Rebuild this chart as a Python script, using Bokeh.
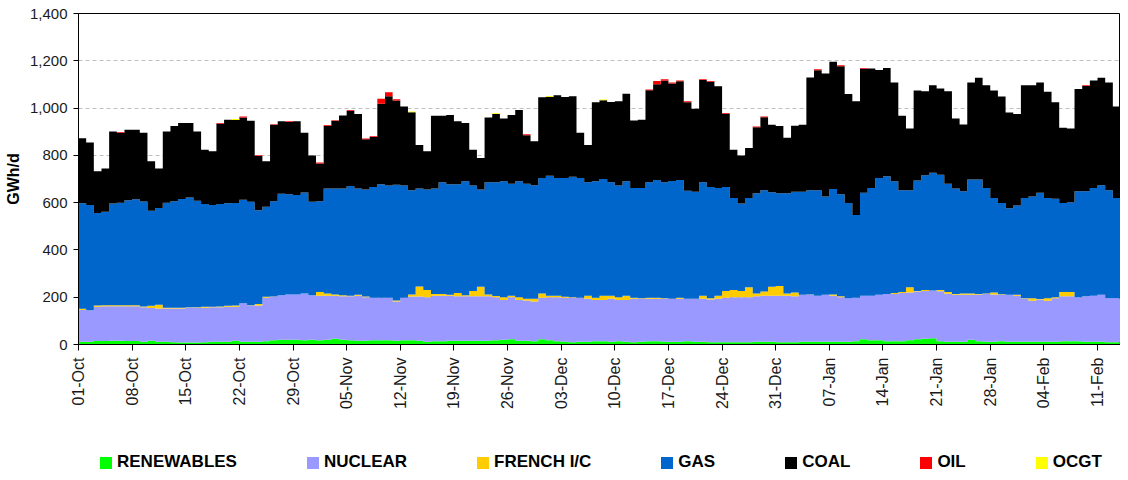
import math
import numpy as np
from bokeh.plotting import figure
from bokeh.layouts import column
from bokeh.models import (ColumnDataSource, FixedTicker, NumeralTickFormatter,
                          Legend, LegendItem, Range1d)
from bokeh.embed import file_html
from bokeh.resources import INLINE

# ---------------- data (GWh/d, one value per day from 01-Oct) ----------------
tick_labels = ["01-Oct", "08-Oct", "15-Oct", "22-Oct", "29-Oct", "05-Nov", "12-Nov",
               "19-Nov", "26-Nov", "03-Dec", "10-Dec", "17-Dec", "24-Dec", "31-Dec",
               "07-Jan", "14-Jan", "21-Jan", "28-Jan", "04-Feb", "11-Feb"]

renewables = [12, 12, 15, 15, 16, 16, 15, 15, 12, 16, 12, 12, 10, 8, 8, 8, 10, 12, 12, 12, 16, 12, 12, 12, 14, 18, 20,
              20, 20, 18, 20, 18, 20, 24, 20, 18, 16, 16, 18, 18, 18, 16, 18, 18, 16, 12, 14, 14, 16, 16, 16, 16, 16, 16,
              18, 20, 22, 16, 16, 14, 22, 18, 14, 12, 10, 12, 12, 14, 14, 12, 14, 12, 10, 12, 14, 14, 12, 12, 12, 14, 12,
              12, 10, 10, 10, 10, 10, 10, 12, 12, 12, 10, 10, 10, 12, 12, 12, 12, 12, 12, 12, 14, 22, 18, 18, 14, 14, 14,
              18, 22, 24, 26, 14, 12, 12, 12, 20, 14, 12, 12, 14, 12, 12, 12, 12, 12, 12, 12, 14, 14, 14, 12, 12, 12, 10, 10]

nuclear = [134, 133, 145, 147, 146, 146, 147, 147, 146, 138, 140, 140, 142, 144, 149, 147, 145, 146, 146, 148, 144, 163, 153, 153, 184, 184, 188,
           192, 192, 198, 188, 188, 186, 182, 184, 186, 190, 184, 180, 180, 180, 166, 180, 185, 187, 188, 192, 192, 190, 188, 188, 188, 188, 188,
           182, 168, 178, 172, 170, 168, 176, 182, 186, 186, 188, 186, 182, 174, 174, 182, 174, 176, 184, 182, 180, 180, 182, 182, 182, 180, 182,
           182, 180, 184, 188, 190, 190, 190, 192, 194, 194, 196, 196, 194, 198, 198, 194, 198, 194, 188, 184, 184, 184, 188, 192, 200, 200, 204,
           202, 202, 202, 202, 211, 203, 198, 198, 190, 197, 202, 199, 196, 198, 194, 182, 173, 178, 173, 184, 190, 190, 186, 192, 194, 198, 186, 186]

french_ic = [5, 0, 5, 4, 4, 4, 4, 4, 3, 10, 16, 3, 3, 3, 1, 3, 5, 2, 3, 4, 5, 0, 1, 6, 4, 1, 0,
             0, 0, 0, 0, 16, 10, 6, 4, 2, 4, 3, 0, 0, 0, 4, 0, 9, 42, 30, 8, 8, 4, 14, 4, 22, 40, 8,
             5, 12, 6, 12, 8, 12, 18, 6, 6, 4, 2, 0, 12, 10, 18, 12, 12, 18, 4, 2, 4, 4, 2, 0, 4, 0, 0,
             12, 6, 12, 28, 30, 26, 42, 12, 18, 38, 41, 10, 16, 0, 2, 0, 0, 6, 4, 0, 0, 0, 0, 0, 0, 4, 4,
             22, 2, 4, 0, 5, 7, 4, 6, 6, 3, 2, 9, 3, 0, 4, 2, 11, 2, 11, 4, 18, 18, 0, 0, 0, 0, 0, 0]

gas = [446, 445, 391, 396, 430, 434, 444, 448, 444, 402, 409, 445, 451, 460, 464, 450, 434, 430, 433, 433, 433, 437, 438, 397, 381, 403, 430,
       424, 420, 427, 396, 384, 444, 448, 452, 464, 450, 453, 468, 480, 474, 490, 474, 440, 415, 426, 446, 472, 468, 460, 482, 446, 412, 474,
       481, 490, 474, 490, 486, 480, 488, 508, 498, 502, 510, 506, 480, 492, 494, 480, 472, 484, 464, 466, 488, 498, 490, 498, 498, 456, 452,
       480, 470, 456, 440, 390, 370, 378, 424, 428, 400, 393, 424, 426, 436, 440, 446, 416, 446, 432, 402, 350, 436, 456, 494, 498, 472, 430,
       410, 468, 486, 498, 488, 458, 446, 432, 482, 484, 446, 400, 385, 366, 378, 424, 430, 450, 424, 416, 376, 380, 448, 444, 456, 464, 456, 424]

coal = [275, 264, 177, 182, 305, 296, 298, 294, 291, 209, 167, 301, 318, 322, 315, 293, 230, 227, 340, 354, 352, 348, 342, 229, 192, 323, 306,
        305, 312, 253, 195, 160, 265, 286, 309, 319, 315, 212, 212, 340, 378, 356, 335, 330, 184, 161, 307, 281, 293, 266, 247, 152, 133, 274,
        289, 266, 291, 302, 205, 186, 342, 334, 350, 343, 340, 192, 158, 335, 333, 340, 357, 371, 285, 289, 389, 405, 430, 412, 417, 375, 351,
        433, 445, 430, 310, 204, 203, 211, 279, 309, 285, 284, 235, 279, 283, 477, 508, 520, 538, 541, 462, 481, 524, 505, 457, 457, 418, 315,
        262, 380, 355, 370, 365, 391, 296, 283, 410, 430, 434, 454, 451, 405, 387, 476, 470, 466, 449, 409, 319, 312, 433, 445, 455, 454, 456, 387]

oil = [0, 0, 0, 0, 0, 3, 0, 0, 0, 0, 0, 0, 0, 0, 0, 0, 0, 0, 3, 0, 0, 4, 0, 3, 0, 3, 0,
       3, 0, 0, 0, 4, 3, 3, 0, 3, 0, 3, 3, 21, 17, 5, 0, 0, 0, 0, 0, 0, 0, 0, 0, 0, 0, 0,
       0, 0, 0, 0, 4, 0, 0, 0, 0, 0, 0, 0, 0, 0, 0, 0, 0, 0, 0, 0, 4, 14, 6, 4, 4, 4, 0,
       3, 4, 0, 3, 0, 0, 0, 3, 3, 0, 0, 0, 0, 0, 0, 4, 0, 0, 4, 0, 0, 3, 0, 0, 0, 0, 0,
       0, 0, 0, 0, 0, 0, 0, 0, 0, 0, 0, 0, 0, 0, 0, 0, 0, 0, 0, 0, 0, 0, 0, 3, 0, 0, 0, 0]

ocgt = [0, 0, 0, 0, 0, 0, 0, 0, 0, 0, 0, 0, 0, 0, 0, 0, 0, 0, 0, 0, 4, 0, 0, 0, 0, 0, 0,
        0, 0, 0, 0, 0, 0, 0, 0, 0, 0, 0, 0, 0, 0, 0, 0, 4, 0, 0, 0, 0, 0, 0, 0, 0, 0, 0,
        3, 0, 0, 0, 0, 0, 0, 3, 0, 0, 0, 0, 0, 0, 3, 0, 0, 0, 0, 0, 0, 0, 0, 0, 0, 0, 0,
        0, 0, 0, 0, 0, 0, 0, 0, 0, 0, 0, 0, 0, 0, 0, 0, 0, 0, 0, 0, 0, 0, 0, 0, 0, 0, 0,
        0, 0, 0, 0, 0, 0, 0, 0, 0, 0, 0, 0, 0, 0, 0, 0, 0, 0, 0, 0, 0, 0, 0, 0, 0, 0, 0, 0]

series = [renewables, nuclear, french_ic, gas, coal, oil, ocgt]
series_labels = ["RENEWABLES", "NUCLEAR", "FRENCH I/C", "GAS", "COAL", "OIL", "OCGT"]
colors = ["#00FF00", "#9999FF", "#FFCC00", "#0066CC", "#000000", "#FF0000", "#FFFF00"]

n_days = len(coal)
FONT = "Liberation Sans"

# step edges: each day's value holds from the day's start to the next day's start
data = {"x": list(range(n_days + 1))}
base = np.zeros(n_days + 1)
for i, s in enumerate(series):
    vals = np.array(list(s) + [s[-1]], dtype=float)
    data[f"lo{i}"] = base.copy()
    base = base + vals
    data[f"hi{i}"] = base.copy()
source = ColumnDataSource(data)

p = figure(width=1120, height=412, output_backend="svg", toolbar_location=None,
           x_range=Range1d(0, n_days), y_range=Range1d(0, 1400),
           min_border_left=78, min_border_right=0, min_border_top=13, min_border_bottom=64)
p.background_fill_color = "white"
p.border_fill_color = "white"
p.outline_line_color = "#000000"
p.outline_line_width = 1

renderers = []
for i, col in enumerate(colors):
    r = p.varea_step(x="x", y1=f"lo{i}", y2=f"hi{i}", step_mode="after",
                     source=source, fill_color=col)
    renderers.append(r)

# axes
p.xaxis.ticker = FixedTicker(ticks=[7 * i for i in range(len(tick_labels))])
p.xaxis.major_label_overrides = {7 * i: lab for i, lab in enumerate(tick_labels)}
p.xaxis.major_label_orientation = math.pi / 2
p.xaxis.major_tick_out = 6
p.xaxis.major_tick_in = 0
p.xaxis.minor_tick_out = 0
p.xaxis.minor_tick_in = 0
p.xaxis.major_label_standoff = 7
p.xaxis.major_label_text_font = FONT
p.xaxis.major_label_text_font_size = "16px"
p.xaxis.major_label_text_color = "#1a1a1a"
p.xaxis.axis_line_color = "#000000"

p.yaxis.ticker = FixedTicker(ticks=list(range(0, 1401, 200)))
p.yaxis.formatter = NumeralTickFormatter(format="0,0")
p.yaxis.major_tick_out = 5
p.yaxis.major_tick_in = 0
p.yaxis.minor_tick_out = 0
p.yaxis.minor_tick_in = 0
p.yaxis.major_label_standoff = 6
p.yaxis.major_label_text_font = FONT
p.yaxis.major_label_text_font_size = "15px"
p.yaxis.major_label_text_color = "#1a1a1a"
p.yaxis.axis_label = "GWh/d"
p.yaxis.axis_label_text_font = FONT
p.yaxis.axis_label_text_font_size = "16px"
p.yaxis.axis_label_text_font_style = "bold"
p.yaxis.axis_label_text_color = "#000000"
p.yaxis.axis_label_standoff = 5
p.yaxis.axis_line_color = "#000000"

p.xgrid.grid_line_color = None
p.ygrid.grid_line_color = "#BFBFBF"
p.ygrid.grid_line_dash = "4 3"
p.ygrid.grid_line_width = 1

# legend strip underneath the chart (its frame is aligned with the chart's frame)
lg = figure(width=1120, height=60, output_backend="svg", toolbar_location=None,
            x_range=Range1d(0, 1), y_range=Range1d(0, 1),
            x_axis_location=None, y_axis_location=None,
            min_border_left=0, min_border_right=0, min_border_top=0, min_border_bottom=0)
lg.grid.visible = False
lg.outline_line_color = None
lg.background_fill_color = "white"
lg.border_fill_color = "white"
# one swatch renderer per series, placed outside the visible range (only the legend shows)
legend_renderers = [lg.vbar(x=[5], top=[0.5], width=0.1, fill_color=c, line_color=None)
                    for c in colors]
items = [LegendItem(label=lab, renderers=[r]) for lab, r in zip(series_labels, legend_renderers)]
legend = Legend(items=items, orientation="horizontal", location=(20, 0),
                glyph_width=15, glyph_height=15, label_standoff=4, spacing=68,
                padding=0, margin=0, border_line_color=None, background_fill_alpha=0,
                label_text_font=FONT, label_text_font_size="17px",
                label_text_font_style="bold", label_text_color="#000000")
lg.add_layout(legend, "center")

layout = column(p, lg, spacing=0)
open("out.html", "w").write(file_html(layout, INLINE))
